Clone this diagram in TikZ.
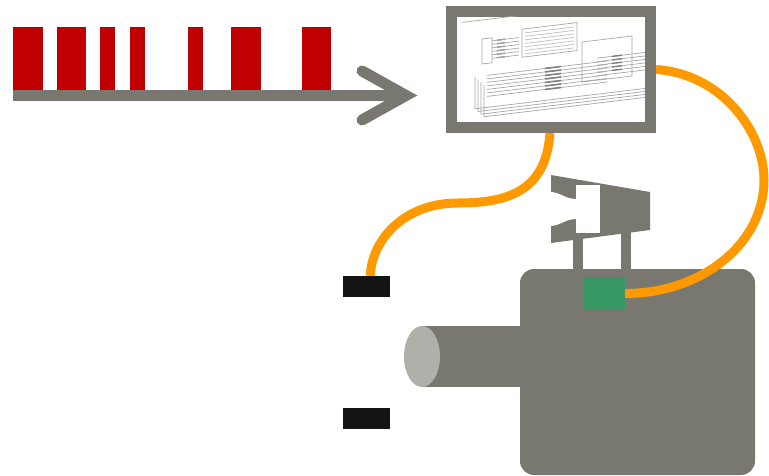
\documentclass[tikz,border=0pt]{standalone}
\usetikzlibrary{positioning,calc}
\definecolor{slate}{RGB}{120,120,112}
\definecolor{lens}{RGB}{176,176,170}
\definecolor{cableorange}{RGB}{255,153,0}
\definecolor{pulsered}{RGB}{192,0,0}
\definecolor{sensorgreen}{RGB}{56,152,100}
\definecolor{plugblack}{RGB}{20,20,20}

\begin{document}
\begin{tikzpicture}[x=1pt, y=-1pt,
    cable/.style={cableorange, line width=9pt},
    plug/.style={fill=plugblack, minimum width=47pt, minimum height=21pt, inner sep=0pt},
    wire/.style={gray!70, line width=0.7pt}]
    \useasboundingbox (0,0) rectangle (769,476);

    % --- Pulse train on the time axis ---
    \foreach \a/\b in {13/43, 57/86, 100/115, 130/145, 188/203, 231/261, 302/331}
        \fill[pulsered] (\a,27.5) rectangle (\b,90);
    \draw[slate, line width=10.5pt] (13,95.5) -- (408,95.5);
    \draw[slate, line width=11pt, line cap=round] (362,71) -- (406,95.5) -- (362,120);

    % --- Camera body ---
    \fill[slate, rounded corners=14pt] (520,269) rectangle (755,475);
    \fill[slate] (422,326) rectangle (525,387);
    \fill[lens] (422,356.5) ellipse [x radius=18pt, y radius=30.5pt];

    % Valve on top of the body
    \fill[slate] (551,175) -- (650,192) -- (650,230) -- (551,243) -- cycle;
    \fill[white] (576,185) rectangle (600,233);
    \fill[white] (550,192) .. controls (560,192) and (565,199) .. (576,199) -- (576,219)
        .. controls (565,219) and (560,226) .. (550,226) -- cycle;
    \fill[slate] (573,234) rectangle (583,270);
    \fill[slate] (621,231) rectangle (631,270);

    % --- Nodes ---
    \node[draw=slate, line width=11pt, minimum width=199pt, minimum height=116pt, inner sep=0pt] (screen) at (551,69.5) {};
    \node[plug] (plugA) at (366.5,286.5) {};
    \node[plug] (plugB) at (366.5,418.5) {};
    \node[fill=sensorgreen, minimum width=41pt, minimum height=33pt, inner sep=0pt] (sensor) at (604.5,293.5) {};

    % Schematic sheet shown on the screen
    \begin{scope}
        \clip (457,17) rectangle (645,122);
        \begin{scope}[shift={(457,17)}, cm={1,0.12,0,1,(0,0)}, wire]
            \draw (5,6) -- (190,6);
            \foreach \k in {0,...,3}
                \draw (18+3*\k,62+3*\k) -- (18+3*\k,94+3*\k) -- (195,94+3*\k);
            \foreach \k in {0,...,6}
                \draw (30,62+3.5*\k) -- (150,62+3.5*\k);
            \foreach \k in {0,...,6}
                \draw[line width=1.6pt, gray] (88,62+3.5*\k) -- (104,62+3.5*\k);
            \draw (65,20) rectangle (120,48);
            \foreach \k in {0,...,6}
                \draw[gray!50] (68,24+3.5*\k) -- (117,24+3.5*\k);
            \foreach \k in {0,...,5}
                \draw[line width=1.4pt, gray!85] (40,28+3.5*\k) -- (48,28+3.5*\k);
            \draw (25,25) rectangle (35,50);
            \foreach \k in {0,...,5}
                \draw (35,28+3.5*\k) -- (62,28+3.5*\k);
            \draw (125,40) rectangle (175,80);
            \foreach \k in {0,...,5}
                \draw (140,58+3.5*\k) -- (188,58+3.5*\k);
            \foreach \k in {0,...,4}
                \draw[line width=1.4pt, gray] (155,58+3.5*\k) -- (165,58+3.5*\k);
        \end{scope}
    \end{scope}

    % --- Cables ---
    \draw[cable] ([xshift=-1pt]screen.south) .. controls +(-4,57) and +(52,0) .. (458,203)
        .. controls +(-58,0) and +(0,-31) .. ([xshift=4pt]plugA.north);
    \draw[cable] (screen.east) .. controls +(64,4) and +(0,-50) .. (764,180)
        .. controls +(0,65) and +(75,0) .. (sensor.east);
\end{tikzpicture}
\end{document}
